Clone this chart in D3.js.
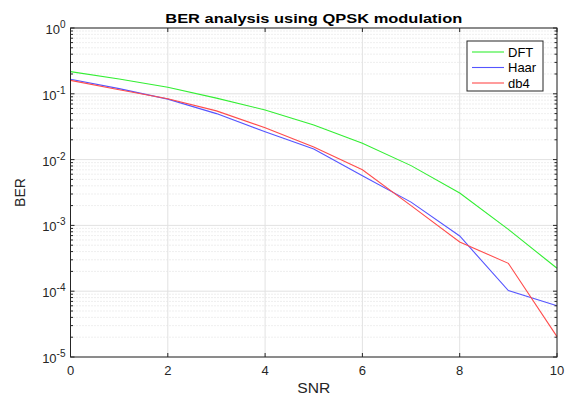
<!DOCTYPE html>
<html>
<head>
<meta charset="utf-8">
<script src="https://cdn.jsdelivr.net/npm/d3@7"></script>
<style>
  body { margin: 0; background: #fff; }
  text { font-family: "Liberation Sans", Arial, sans-serif; }
</style>
</head>
<body>
<script>
// data
const snr = [0, 1, 2, 3, 4, 5, 6, 7, 8, 9, 10];
const berDFT  = [0.217, 0.168, 0.126, 0.086, 0.0567, 0.0336, 0.0177, 0.0081, 0.0031, 0.00087, 0.000223];
const berHaar = [0.166, 0.12, 0.083, 0.050, 0.0265, 0.0145, 0.0057, 0.00226, 0.00069, 0.000102, 0.00006];
const berDb4  = [0.16, 0.115, 0.084, 0.055, 0.0305, 0.0155, 0.0070, 0.0020, 0.00056, 0.000265, 0.0000204];
const seriesNames = ["DFT", "Haar", "db4"];
const seriesColors = ["#33ee33", "#5555ff", "#ff4c4c"];
const xTicks = [0, 2, 4, 6, 8, 10];
const yExps = [0, -1, -2, -3, -4, -5];

const width = 569, height = 396;
const margin = {left: 70.5, right: 12, top: 28, bottom: 39};

const svg = d3.select("body").append("svg")
    .attr("width", width)
    .attr("height", height);

const x = d3.scaleLinear().domain([0, 10]).range([margin.left, width - margin.right]);
const y = d3.scaleLog().domain([1e-5, 1]).range([height - margin.bottom, margin.top]);

const x0 = x.range()[0], x1 = x.range()[1], y0 = y.range()[0], y1 = y.range()[1];

// minor grid (dotted)
const minor = [];
for (let e = -5; e < 0; e++) for (let m = 2; m <= 9; m++) minor.push(m * Math.pow(10, e));
svg.append("g").selectAll("line").data(minor).enter().append("line")
    .attr("x1", x0).attr("x2", x1)
    .attr("y1", d => y(d)).attr("y2", d => y(d))
    .attr("stroke", "#d6d6d6").attr("stroke-width", 0.8)
    .attr("stroke-dasharray", "1,2");

// major grid
svg.append("g").selectAll("line").data(yExps).enter().append("line")
    .attr("x1", x0).attr("x2", x1)
    .attr("y1", d => y(Math.pow(10, d))).attr("y2", d => y(Math.pow(10, d)))
    .attr("stroke", "#e2e2e2").attr("stroke-width", 1);
svg.append("g").selectAll("line").data(xTicks).enter().append("line")
    .attr("x1", d => x(d)).attr("x2", d => x(d))
    .attr("y1", y0).attr("y2", y1)
    .attr("stroke", "#e2e2e2").attr("stroke-width", 1);

// lines
const allSeries = [berDFT, berHaar, berDb4];
const line = d3.line().x((d, i) => x(snr[i])).y(d => y(d));
allSeries.forEach((s, k) => {
  svg.append("path").datum(s)
      .attr("fill", "none")
      .attr("stroke", seriesColors[k])
      .attr("stroke-width", 1.1)
      .attr("d", line);
});

// axes box and ticks
const axisColor = "#262626";
svg.append("rect")
    .attr("x", x0).attr("y", y1)
    .attr("width", x1 - x0).attr("height", y0 - y1)
    .attr("fill", "none").attr("stroke", axisColor).attr("stroke-width", 1);

const tickG = svg.append("g").attr("stroke", axisColor).attr("stroke-width", 1);
xTicks.forEach(t => {
  tickG.append("line").attr("x1", x(t)).attr("x2", x(t)).attr("y1", y0).attr("y2", y0 - 4);
  tickG.append("line").attr("x1", x(t)).attr("x2", x(t)).attr("y1", y1).attr("y2", y1 + 4);
});
yExps.forEach(e => {
  const yy = y(Math.pow(10, e));
  tickG.append("line").attr("x1", x0).attr("x2", x0 + 4).attr("y1", yy).attr("y2", yy);
  tickG.append("line").attr("x1", x1).attr("x2", x1 - 4).attr("y1", yy).attr("y2", yy);
});
minor.forEach(v => {
  const yy = y(v);
  tickG.append("line").attr("x1", x0).attr("x2", x0 + 2.5).attr("y1", yy).attr("y2", yy);
  tickG.append("line").attr("x1", x1).attr("x2", x1 - 2.5).attr("y1", yy).attr("y2", yy);
});

// tick labels
svg.append("g").selectAll("text").data(xTicks).enter().append("text")
    .attr("x", d => x(d)).attr("y", y0 + 18)
    .attr("text-anchor", "middle")
    .attr("font-size", 13).attr("fill", axisColor)
    .text(d => d);

const yl = svg.append("g").selectAll("text").data(yExps).enter().append("text")
    .attr("x", x0 - 5).attr("y", d => y(Math.pow(10, d)) + 6)
    .attr("text-anchor", "end")
    .attr("font-size", 13).attr("fill", axisColor);
yl.append("tspan").text("10");
yl.append("tspan").attr("dy", -6).attr("font-size", 10).text(d => d);

// titles
svg.append("text")
    .attr("x", (x0 + x1) / 2).attr("y", 22.5)
    .attr("text-anchor", "middle")
    .attr("font-size", 13.5).attr("font-weight", "bold").attr("fill", "#000")
    .attr("textLength", 297).attr("lengthAdjust", "spacingAndGlyphs")
    .text("BER analysis using QPSK modulation");

svg.append("text")
    .attr("x", (x0 + x1) / 2).attr("y", 393)
    .attr("text-anchor", "middle")
    .attr("font-size", 14).attr("fill", axisColor)
    .attr("textLength", 33).attr("lengthAdjust", "spacingAndGlyphs")
    .text("SNR");

svg.append("text")
    .attr("transform", "translate(25," + ((y0 + y1) / 2) + ") rotate(-90)")
    .attr("text-anchor", "middle")
    .attr("font-size", 14).attr("fill", axisColor)
    .text("BER");

// legend
const lg = svg.append("g").attr("transform", "translate(467,41)");
lg.append("rect").attr("width", 76).attr("height", 50)
    .attr("fill", "#fff").attr("stroke", axisColor).attr("stroke-width", 1);
seriesNames.forEach((n, i) => {
  const yy = 11 + i * 15.5;
  lg.append("line").attr("x1", 5).attr("x2", 37).attr("y1", yy).attr("y2", yy)
      .attr("stroke", seriesColors[i]).attr("stroke-width", 1.1);
  lg.append("text").attr("x", 41).attr("y", yy + 4.5)
      .attr("font-size", 13).attr("fill", "#000").text(n);
});
</script>
</body>
</html>
